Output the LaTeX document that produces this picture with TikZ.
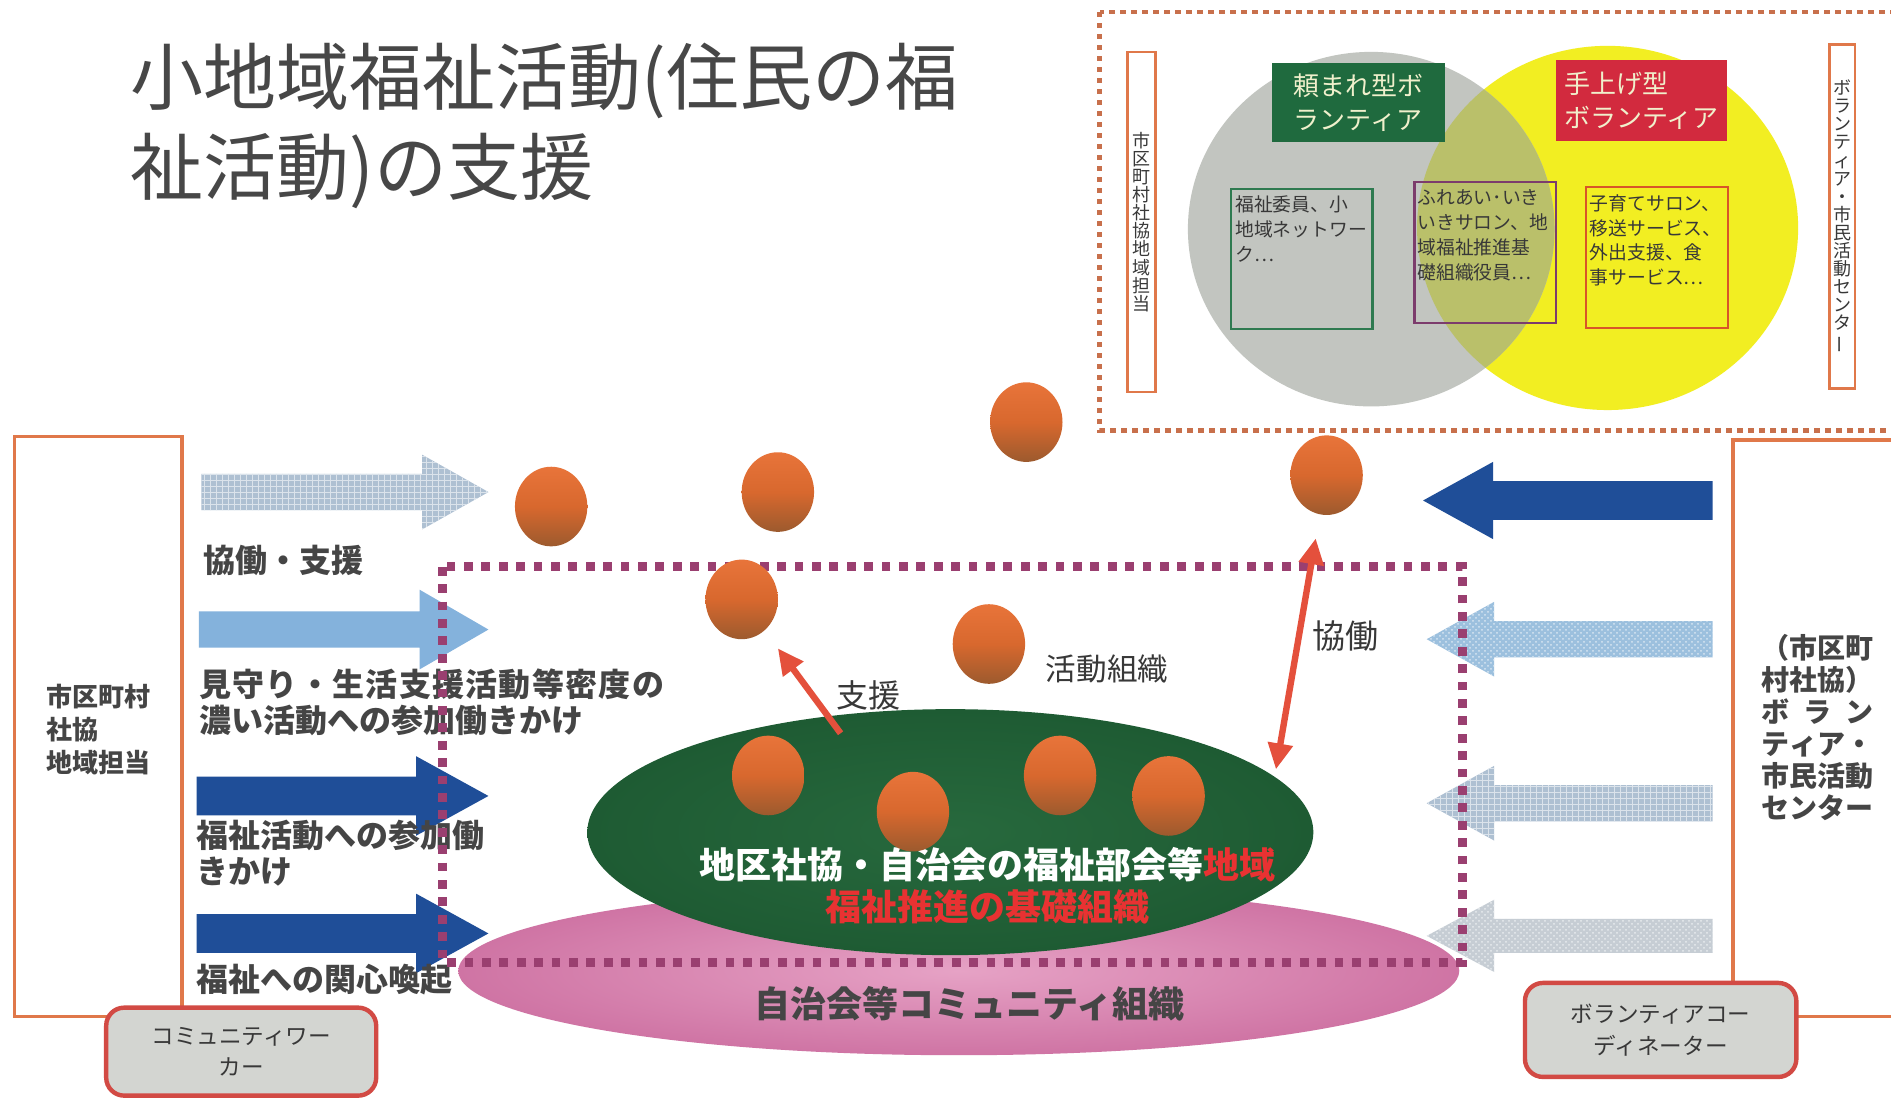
\documentclass[tikz,border=0pt]{standalone}
\usepackage{fontspec}
\setmainfont{Noto Sans CJK JP}
\usetikzlibrary{shapes.geometric,arrows.meta,patterns}
\definecolor{ttl}{HTML}{474747}
\definecolor{txt}{HTML}{383838}
\definecolor{lbtxt}{HTML}{454545}
\definecolor{boxor}{HTML}{E0784A}
\definecolor{dotor}{HTML}{C8704C}
\definecolor{dotpu}{HTML}{9A3F70}
\definecolor{vgray}{HTML}{C2C5C0}
\definecolor{vyel}{HTML}{F2EE22}
\definecolor{volive}{HTML}{BAC06A}
\definecolor{lgreen}{HTML}{1F6A3E}
\definecolor{lred}{HTML}{D22A3E}
\definecolor{lbltxt}{HTML}{F0F0CC}
\definecolor{bxgreen}{HTML}{2E7A50}
\definecolor{bxpur}{HTML}{7C3C6C}
\definecolor{bxora}{HTML}{D85528}
\definecolor{dblue}{HTML}{1F4E98}
\definecolor{lblue}{HTML}{84B2DC}
\definecolor{pblue}{HTML}{AEC0D2}
\definecolor{pblue2}{HTML}{9CC0DE}
\definecolor{pgray}{HTML}{C6CDD4}
\definecolor{grn}{HTML}{1E5B33}
\definecolor{grnin}{HTML}{27693D}
\definecolor{pinkin}{HTML}{E6A2C5}
\definecolor{pinkout}{HTML}{CF74A4}
\definecolor{rarr}{HTML}{E4503C}
\definecolor{redtxt}{HTML}{E83232}
\definecolor{cwfill}{HTML}{D3D5D1}
\definecolor{cwbord}{HTML}{D24A44}
\definecolor{balltop}{HTML}{E8743A}
\definecolor{ballmid}{HTML}{D8682E}
\definecolor{ballbot}{HTML}{9C5A2E}
\newcommand\fsz[2]{\fontsize{#1}{#2}\selectfont}
\newcommand\RArrow[7]{\path[#7] ({#1},{#3-#4}) -- ({#2-#6},{#3-#4}) -- ({#2-#6},{#3-#5}) -- ({#2},{#3}) -- ({#2-#6},{#3+#5}) -- ({#2-#6},{#3+#4}) -- ({#1},{#3+#4}) -- cycle;}
\newcommand\LArrow[7]{\path[#7] ({#1},{#3-#4}) -- ({#2+#6},{#3-#4}) -- ({#2+#6},{#3-#5}) -- ({#2},{#3}) -- ({#2+#6},{#3+#5}) -- ({#2+#6},{#3+#4}) -- ({#1},{#3+#4}) -- cycle;}
\begin{document}
\begin{tikzpicture}[x=0.603pt,y=-0.603pt,
  ball/.style={ellipse, minimum width=36.2pt, minimum height=39.8pt, inner sep=0,
    top color=balltop, bottom color=ballbot, middle color=ballmid},
  lbl/.style={anchor=west, inner sep=0, text=lbtxt, align=left, font=\fsz{16}{18}\bfseries},
  small/.style={anchor=north west, inner sep=0, text=txt, align=left, font=\fsz{9.4}{12.4}},
  ibox/.style={draw, line width=1.2pt, inner sep=0},
  vtext/.style={inner sep=0, align=center, text=txt, font=\fsz{9}{9.05}},
  cwbox/.style={draw=cwbord, line width=2.2pt, fill=cwfill, rounded corners=9pt, align=center, text=txt, font=\fsz{11.3}{15.7}, inner sep=0},
  redarrow/.style={rarr, line width=3.2pt},
  tip/.tip={Triangle[length=13pt, width=12pt]}
]
\useasboundingbox (0,0) rectangle (1568,910.4);
\begin{scope}
\clip (0,0) rectangle (1568,910.4);
\fill[white] (0,0) rectangle (1568,910.4);

% title
\node[anchor=west, inner sep=0, text=ttl, font=\fsz{36.5}{40}] (t1) at (108,67) {小地域福祉活動(住民の福};
\node[anchor=west, inner sep=0, text=ttl, font=\fsz{36.5}{40}] (t2) at (108,142) {祉活動)の支援};

% top-right panel
\fill[vyel] (1333,189) ellipse [x radius=158, y radius=151];
\fill[vgray] (1137,190) ellipse [x radius=152, y radius=147];
\begin{scope}
\clip (1333,189) ellipse [x radius=158, y radius=151];
\fill[volive] (1137,190) ellipse [x radius=152, y radius=147];
\end{scope}
\draw[dotor, line width=2.4pt, dash pattern=on 2.6pt off 2.9pt] (912,10) rectangle (1620,357);
\node[draw=boxor, line width=1.2pt, minimum width=13.9pt, minimum height=170pt, inner sep=0] (lv) at (946.5,184) {};
\node[vtext] at (lv.center) {市\\区\\町\\村\\社\\協\\地\\域\\担\\当};
\node[draw=boxor, line width=1.2pt, minimum width=12.7pt, minimum height=171.9pt, inner sep=0] (rv) at (1527.5,179.5) {};
\node[vtext] at (rv.center) {ボ\\ラ\\ン\\テ\\ィ\\ア\\・\\市\\民\\活\\動\\セ\\ン\\タ\\\rotatebox[origin=c]{90}{ー}};
\node[fill=lgreen, minimum width=86.2pt, minimum height=39.8pt, inner sep=0, text=lbltxt, align=left, font=\fsz{13}{16.9}] (lg) at (1126.5,85) {頼まれ型ボ\\ランティア};
\node[fill=lred, minimum width=85.6pt, minimum height=40.4pt, inner sep=0, text=lbltxt, align=left, font=\fsz{13}{16.9}] (lr) at (1361,83.5) {手上げ型\\ボランティア};
\node[ibox, draw=bxgreen, minimum width=70.6pt, minimum height=70pt] (ib1) at (1079.5,215) {};
\node[ibox, draw=bxpur, minimum width=70.6pt, minimum height=70.6pt] (ib2) at (1231.5,209.5) {};
\node[ibox, draw=bxora, minimum width=71.2pt, minimum height=70.6pt] (ib3) at (1374,213.5) {};
\node[small] at (1024,162) {福祉委員、小\\地域ネットワー\\ク…};
\node[small] at (1175,157) {ふれあい･いき\\いきサロン、地\\域福祉推進基\\礎組織役員…};
\node[small] at (1318,161) {子育てサロン、\\移送サービス、\\外出支援、食\\事サービス…};

% side boxes
\draw[boxor, line width=1.8pt] (12,362) rectangle (151,843);
\node[anchor=west, inner sep=0, text=lbtxt, align=left, font=\fsz{13}{16.3}\bfseries] (lt) at (38,605) {市区町村\\社協\\地域担当};
\draw[boxor, line width=1.8pt] (1437,365) rectangle (1640,843);
\node[anchor=west, inner sep=0, text=lbtxt, align=left, font=\fsz{14}{16}\bfseries] (rt) at (1460,603.5)
  {\makebox[56pt][s]{（\hfil 市\hfil 区\hfil 町}\\村社協）\\\makebox[56pt][s]{ボ\hfil ラ\hfil ン}\\\makebox[56pt][s]{テ\hfil ィ\hfil ア\hfil ・}\\市民活動\\センター};

% community ellipses
\node[ellipse, minimum width=500.5pt, minimum height=84.4pt, inner sep=0, inner color=pinkin, outer color=pinkout] (pe) at (795,805) {};
\node[ellipse, minimum width=363pt, minimum height=123pt, inner sep=0, inner color=grnin, outer color=grn] (ge) at (788,690) {};

% block arrows
\RArrow{167}{405}{408}{15}{31}{55}{fill=pblue, postaction={pattern=grid, pattern color=white!55!pblue}}
\RArrow{165}{405}{522}{15}{33}{57}{fill=lblue}
\RArrow{163}{405}{660}{16}{33}{60}{fill=dblue}
\RArrow{163}{405}{774}{16}{33}{60}{fill=dblue}
\LArrow{1420}{1180}{415}{16}{32}{58}{fill=dblue}
\LArrow{1420}{1183}{530}{15}{31}{56}{fill=pblue2, postaction={pattern=crosshatch dots, pattern color=white!60!pblue2}}
\LArrow{1420}{1183}{666}{15}{31}{56}{fill=pblue, postaction={pattern=grid, pattern color=white!55!pblue}}
\LArrow{1420}{1183}{776}{14}{30}{56}{fill=pgray, postaction={pattern=crosshatch dots, pattern color=white!60!pgray}}

% left labels
\node[lbl] at (168,465) {協働・支援};
\node[lbl] at (165,582) {{\addfontfeature{LetterSpace=4}見守り・生活支援活動等密度の}\\濃い活動への参加働きかけ};
\node[lbl] at (163,707.5) {福祉活動への参加働\\きかけ};
\node[lbl] at (163,812) {福祉への関心喚起};

% ellipse texts
\node[inner sep=0, align=center, text=white, font=\fsz{18}{21.1}\bfseries] at (819,734.5)
  {地区社協・自治会の福祉部会等\textcolor{redtxt}{地域}\\\textcolor{redtxt}{福祉推進の基礎組織}};
\node[inner sep=0, text=lbtxt, font=\fsz{18}{21}\bfseries] at (804,832) {自治会等コミュニティ組織};

% dotted rectangle
\draw[dotpu, line width=4.4pt, dash pattern=on 4.4pt off 4.3pt] (367,470) rectangle (1213,798);

% balls
\node[ball] (b1) at (457,420) {};
\node[ball] (b2) at (645,408) {};
\node[ball] (b3) at (851,350) {};
\node[ball] (b4) at (1100,394) {};
\node[ball] (b5) at (615,497) {};
\node[ball] (b6) at (820,534) {};
\node[ball] (b7) at (637,643) {};
\node[ball] (b8) at (757,673) {};
\node[ball] (b9) at (879,643) {};
\node[ball] (b10) at (969,660) {};

% red arrows
\coordinate (s1) at (697,608);
\coordinate (k1) at (1058,638);
\draw[redarrow, -tip, shorten >=11pt] (s1) -- (b5);
\draw[redarrow, tip-tip, shorten >=12pt] (k1) -- (b4);
\node[inner sep=0, text=txt, font=\fsz{16}{18}] at (720,577) {支援};
\node[inner sep=0, text=txt, font=\fsz{16.5}{18}] at (1116,527) {協働};
\node[inner sep=0, text=txt, font=\fsz{15.3}{18}] at (918,555) {活動組織};

% worker boxes
\node[cwbox, minimum width=135pt, minimum height=44pt] (cw) at (200,872) {コミュニティワー\\カー};
\node[cwbox, minimum width=135.7pt, minimum height=47pt] (vc) at (1377,854) {ボランティアコー\\ディネーター};
\end{scope}
\end{tikzpicture}
\end{document}
